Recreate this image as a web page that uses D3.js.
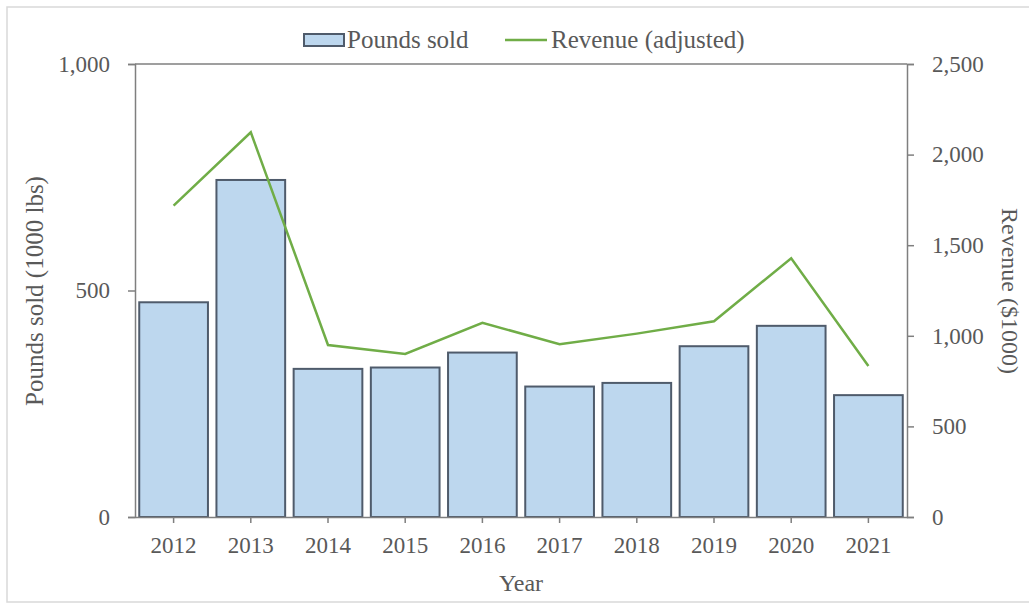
<!DOCTYPE html>
<html lang="en">
<head>
<meta charset="UTF-8">
<title>Pounds sold and revenue</title>
<script src="https://d3js.org/d3.v7.min.js"></script>
<style>
  body { margin: 0; background: #fff; }
  svg { display: block; font-family: "Liberation Serif", "Times New Roman", serif; }
  .tick text { fill: #595959; font-size: 23px; font-family: "Liberation Serif", "Times New Roman", serif; }
  .tick line, .domain { stroke: #7f7f7f; }
  .label { fill: #595959; font-size: 24px; }
</style>
</head>
<body>
<svg id="chart" width="1029" height="609"></svg>
<script>
// data
const years = ["2012", "2013", "2014", "2015", "2016", "2017", "2018", "2019", "2020", "2021"];
const poundsSold = [474, 744, 327, 330, 363, 288, 296, 377, 422, 269];
const revenue = [1718, 2123, 949, 900, 1072, 953, 1012, 1080, 1428, 833];
const leftTicks = [0, 500, 1000];
const rightTicks = [0, 500, 1000, 1500, 2000, 2500];

const margin = { top: 64, right: 122, bottom: 92, left: 135 };
const W = 1029, H = 609;
const width = W - margin.left - margin.right;
const height = H - margin.top - margin.bottom;

const svg = d3.select("#chart");

// outer frame
svg.append("rect")
    .attr("x", 7).attr("y", 7)
    .attr("width", W).attr("height", 595)
    .attr("fill", "none")
    .attr("stroke", "#d9d9d9")
    .attr("stroke-width", 1.5);

const g = svg.append("g")
    .attr("transform", `translate(${margin.left},${margin.top})`);

const x = d3.scaleBand().domain(years).range([0, width]).paddingInner(0.11).paddingOuter(0.055);
const yLeft = d3.scaleLinear().domain([0, 1000]).range([height, 0]);
const yRight = d3.scaleLinear().domain([0, 2500]).range([height, 0]);

// bars
g.selectAll(".bar")
    .data(years)
    .enter()
    .append("rect")
    .attr("class", "bar")
    .attr("x", d => x(d))
    .attr("width", x.bandwidth())
    .attr("y", (d, i) => yLeft(poundsSold[i]))
    .attr("height", (d, i) => height - yLeft(poundsSold[i]))
    .attr("fill", "#bdd7ee")
    .attr("stroke", "#4f5b6b")
    .attr("stroke-width", 2);

// revenue line
const line = d3.line()
    .x((d, i) => x(years[i]) + x.bandwidth() / 2)
    .y(d => yRight(d));

g.append("path")
    .datum(revenue)
    .attr("d", line)
    .attr("fill", "none")
    .attr("stroke", "#70ad47")
    .attr("stroke-width", 2.5);

// plot area top border
g.append("line")
    .attr("x1", 0).attr("x2", width)
    .attr("y1", 0).attr("y2", 0)
    .attr("stroke", "#7f7f7f")
    .attr("stroke-width", 1.5);

// axes
g.append("g")
    .call(d3.axisLeft(yLeft).tickValues(leftTicks).tickFormat(d3.format(",")).tickSize(7).tickPadding(18))
    .call(a => a.selectAll(".domain, line").attr("stroke-width", 1.5));

g.append("g")
    .attr("transform", `translate(${width},0)`)
    .call(d3.axisRight(yRight).tickValues(rightTicks).tickFormat(d3.format(",")).tickSize(7).tickPadding(18))
    .call(a => a.selectAll(".domain, line").attr("stroke-width", 1.5));

g.append("g")
    .attr("transform", `translate(0,${height})`)
    .call(d3.axisBottom(x).tickSize(6).tickSizeOuter(0).tickPadding(14))
    .call(a => a.selectAll(".domain, line").attr("stroke-width", 1.5));

// axis titles
svg.append("text")
    .attr("class", "label")
    .attr("x", 521).attr("y", 591)
    .attr("text-anchor", "middle")
    .text("Year");

svg.append("text")
    .attr("class", "label")
    .style("font-size", "25px")
    .attr("transform", "translate(43,291) rotate(-90)")
    .attr("text-anchor", "middle")
    .text("Pounds sold (1000 lbs)");

svg.append("text")
    .attr("class", "label")
    .attr("transform", "translate(1002,291) rotate(90)")
    .attr("text-anchor", "middle")
    .text("Revenue ($1000)");

// legend
const legend = svg.append("g");
legend.append("rect")
    .attr("x", 304).attr("y", 34)
    .attr("width", 40).attr("height", 12)
    .attr("fill", "#bdd7ee")
    .attr("stroke", "#4f5b6b")
    .attr("stroke-width", 2);
legend.append("text")
    .attr("class", "label")
    .attr("x", 347).attr("y", 48)
    .style("font-size", "25px")
    .text("Pounds sold");
legend.append("line")
    .attr("x1", 505).attr("x2", 547)
    .attr("y1", 40).attr("y2", 40)
    .attr("stroke", "#70ad47")
    .attr("stroke-width", 2.5);
legend.append("text")
    .attr("class", "label")
    .attr("x", 551).attr("y", 48)
    .style("font-size", "25px")
    .text("Revenue (adjusted)");
</script>
</body>
</html>
